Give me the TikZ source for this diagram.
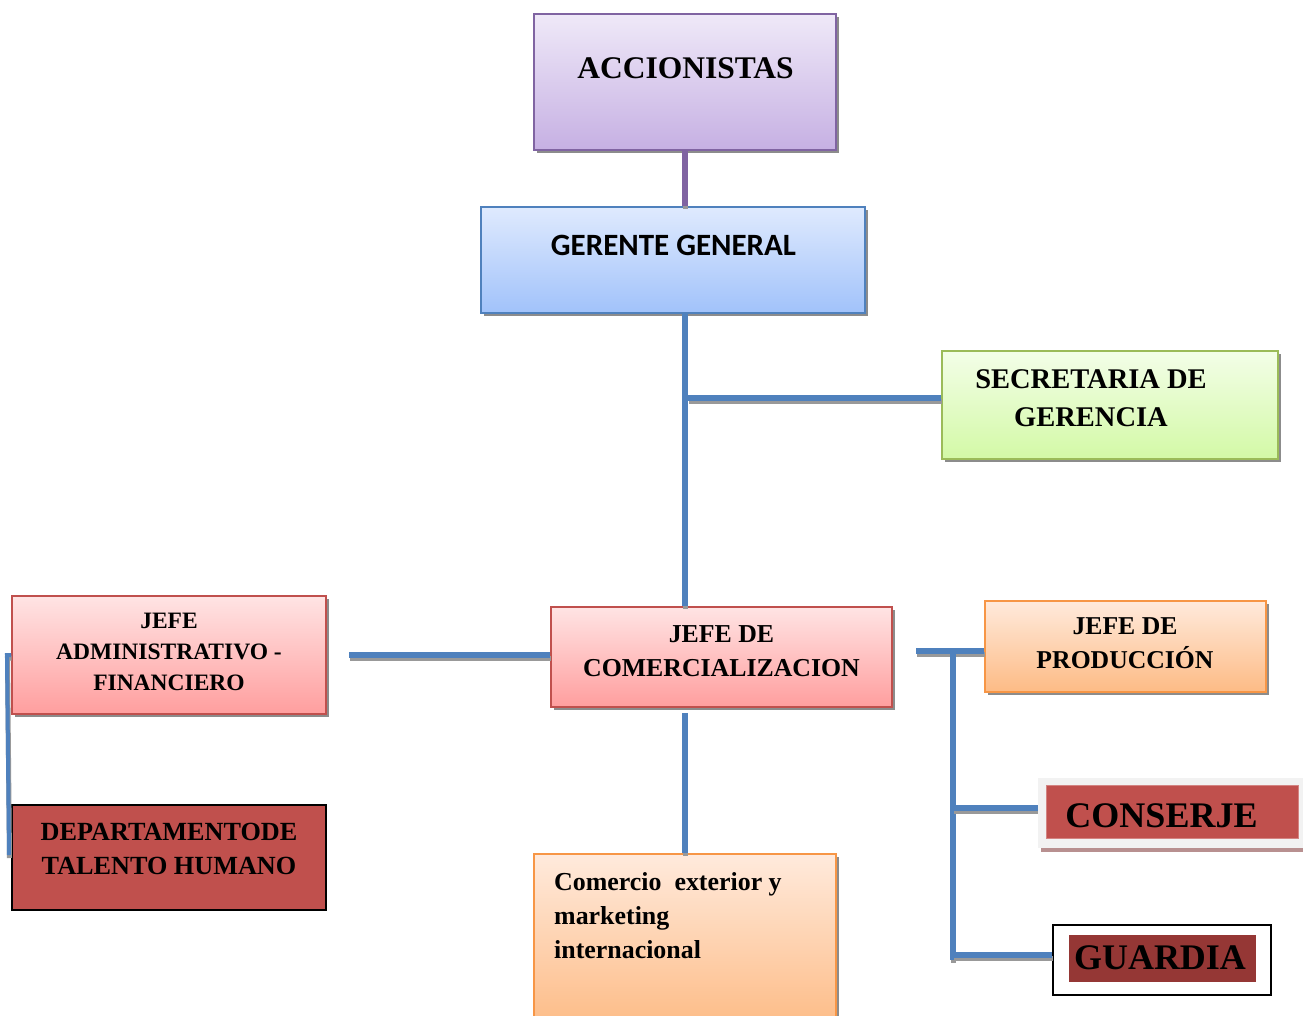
\documentclass[tikz,border=0pt]{standalone}
\usepackage{fontspec}
\setmainfont{Liberation Serif}
\newfontfamily\calibrilike{Carlito}
\usetikzlibrary{shadows}

\definecolor{purpleedge}{HTML}{8064A2}
\definecolor{purpletop}{HTML}{EFE9F8}
\definecolor{purplebot}{HTML}{C6B0E3}
\definecolor{blueedge}{HTML}{4F81BD}
\definecolor{bluetop}{HTML}{DFEAFE}
\definecolor{bluebot}{HTML}{A1C2FA}
\definecolor{greenedge}{HTML}{9BBB59}
\definecolor{greentop}{HTML}{F3FEE8}
\definecolor{greenbot}{HTML}{D3F9A6}
\definecolor{rededge}{HTML}{C0504D}
\definecolor{redtop}{HTML}{FFE4E4}
\definecolor{redbot}{HTML}{FF9E9E}
\definecolor{orangeedge}{HTML}{F79646}
\definecolor{orangetop}{HTML}{FFEADC}
\definecolor{orangebot}{HTML}{FDBB85}
\definecolor{brick}{HTML}{C0504D}
\definecolor{darkbrick}{HTML}{953735}
\definecolor{paleframe}{HTML}{F2F2F2}
\definecolor{rosyshadow}{HTML}{B89090}

\begin{document}
\begin{tikzpicture}[x=1pt,y=-1pt,
  orgbox/.style n args={3}{draw=#1, line width=1.6pt, inner sep=0pt,
    shading=axis, top color=#2, bottom color=#3,
    drop shadow={shadow xshift=3pt, shadow yshift=-3pt, fill=black!45, opacity=1}},
  plainbox/.style={inner sep=0pt},
  boxtext/.style={font=\bfseries, align=center, inner sep=0pt},
  linkshadow/.style={preaction={draw=black!40, line width=5pt,
    transform canvas={shift={(0.5pt,-3pt)}}}},
  bluelink/.style={draw=blueedge, line width=5.5pt, linkshadow},
  purplelink/.style={draw=purpleedge, line width=5.5pt, linkshadow},
]
\useasboundingbox (0,0) rectangle (1303,1016);

% ---- boxes ----
\node[orgbox={purpleedge}{purpletop}{purplebot}, minimum width=302, minimum height=136] (acc) at (685,82) {};
\node[boxtext, font=\bfseries\fontsize{31.5}{37}\selectfont] (acc-label) at (685.5,68) {ACCIONISTAS};

\node[orgbox={blueedge}{bluetop}{bluebot}, minimum width=384, minimum height=106] (ger) at (673,260) {};
\node[boxtext, font=\calibrilike\bfseries\fontsize{31}{36}\selectfont] (ger-label) at (673.5,245) {GERENTE GENERAL};

\node[orgbox={greenedge}{greentop}{greenbot}, minimum width=336, minimum height=108] (sec) at (1110,405) {};
\node[boxtext, font=\bfseries\fontsize{28.5}{38}\selectfont] (sec-label) at (1091,398) {SECRETARIA DE\\GERENCIA};

\node[orgbox={rededge}{redtop}{redbot}, minimum width=341, minimum height=100] (com) at (721.5,657) {};
\node[boxtext, font=\bfseries\fontsize{25.8}{34}\selectfont] (com-label) at (721.5,651) {JEFE DE\\COMERCIALIZACION};

\node[orgbox={rededge}{redtop}{redbot}, minimum width=314, minimum height=118] (adm) at (169,655) {};
\node[boxtext, font=\bfseries\fontsize{23.5}{31}\selectfont] (adm-label) at (169,652) {JEFE\\ADMINISTRATIVO -\\FINANCIERO};

\node[draw=black, line width=1.6pt, fill=brick, inner sep=0pt, minimum width=314, minimum height=105] (tal) at (169,857.5) {};
\node[boxtext, font=\bfseries\fontsize{26.2}{34}\selectfont] (tal-label) at (169,849) {DEPARTAMENTODE\\TALENTO HUMANO};

\node[orgbox={orangeedge}{orangetop}{orangebot}, minimum width=281, minimum height=91] (prod) at (1125.5,646.5) {};
\node[boxtext, font=\bfseries\fontsize{25.7}{34}\selectfont] (prod-label) at (1125,643) {JEFE DE\\PRODUCCIÓN};

\node[orgbox={orangeedge}{orangetop}{orangebot}, minimum width=302, minimum height=176] (cx) at (685,942) {};
\node[boxtext, align=left, anchor=north west, font=\bfseries\fontsize{25.9}{34}\selectfont] (cx-label) at (554,872) {Comercio\ \ exterior y\\marketing\\internacional};

\node[plainbox, fill=paleframe, minimum width=265, minimum height=70,
  drop shadow={shadow xshift=3pt, shadow yshift=-4pt, fill=rosyshadow, opacity=1}] (cons) at (1170.5,813) {};
\node[plainbox, fill=brick, draw=brick!70!white, line width=0.6pt, minimum width=252, minimum height=53] (cons-in) at (1172,811.5) {};
\node[boxtext, font=\bfseries\fontsize{36}{40}\selectfont] (cons-label) at (1161.5,816) {CONSERJE};

\node[draw=black, line width=2pt, fill=white, inner sep=0pt, minimum width=218, minimum height=70] (guard) at (1162,960) {};
\node[plainbox, fill=darkbrick, minimum width=187, minimum height=47] (guard-in) at (1162.5,958.5) {};
\node[boxtext, font=\bfseries\fontsize{36}{40}\selectfont] (guard-label) at (1160,958) {GUARDIA};

% ---- junction points ----
\coordinate (secjoin) at (688,398);
\coordinate (admend) at (349,655);
\coordinate (leftbend) at (7,655);
\coordinate (leftfoot) at (9,855);
\coordinate (prodstart) at (916,651);
\coordinate (rtop) at (953,653);
\coordinate (rbot) at (953,960);
\coordinate (consjoin) at (953,808);
\coordinate (guardjoin) at (953,955);

% ---- connectors ----
\draw[purplelink] (acc.south) -- (acc.south |- ger.north);
\draw[bluelink] (acc.south |- ger.south) -- (acc.south |- com.north);
\draw[bluelink] (secjoin) -- (secjoin -| sec.west);
\draw[bluelink] (admend) -- (admend -| com.west);
\draw[bluelink, line width=4pt] (adm.west |- leftbend) -- (leftbend) -- (leftfoot);
\draw[bluelink] ([yshift=-5]acc.south |- com.south) -- (acc.south |- cx.north);
\draw[bluelink] (prodstart) -- (prodstart -| prod.west);
\draw[bluelink] (rtop) -- (rbot);
\draw[bluelink] (consjoin) -- (consjoin -| cons.west);
\draw[bluelink] (guardjoin) -- (guardjoin -| guard.west);
\end{tikzpicture}
\end{document}
